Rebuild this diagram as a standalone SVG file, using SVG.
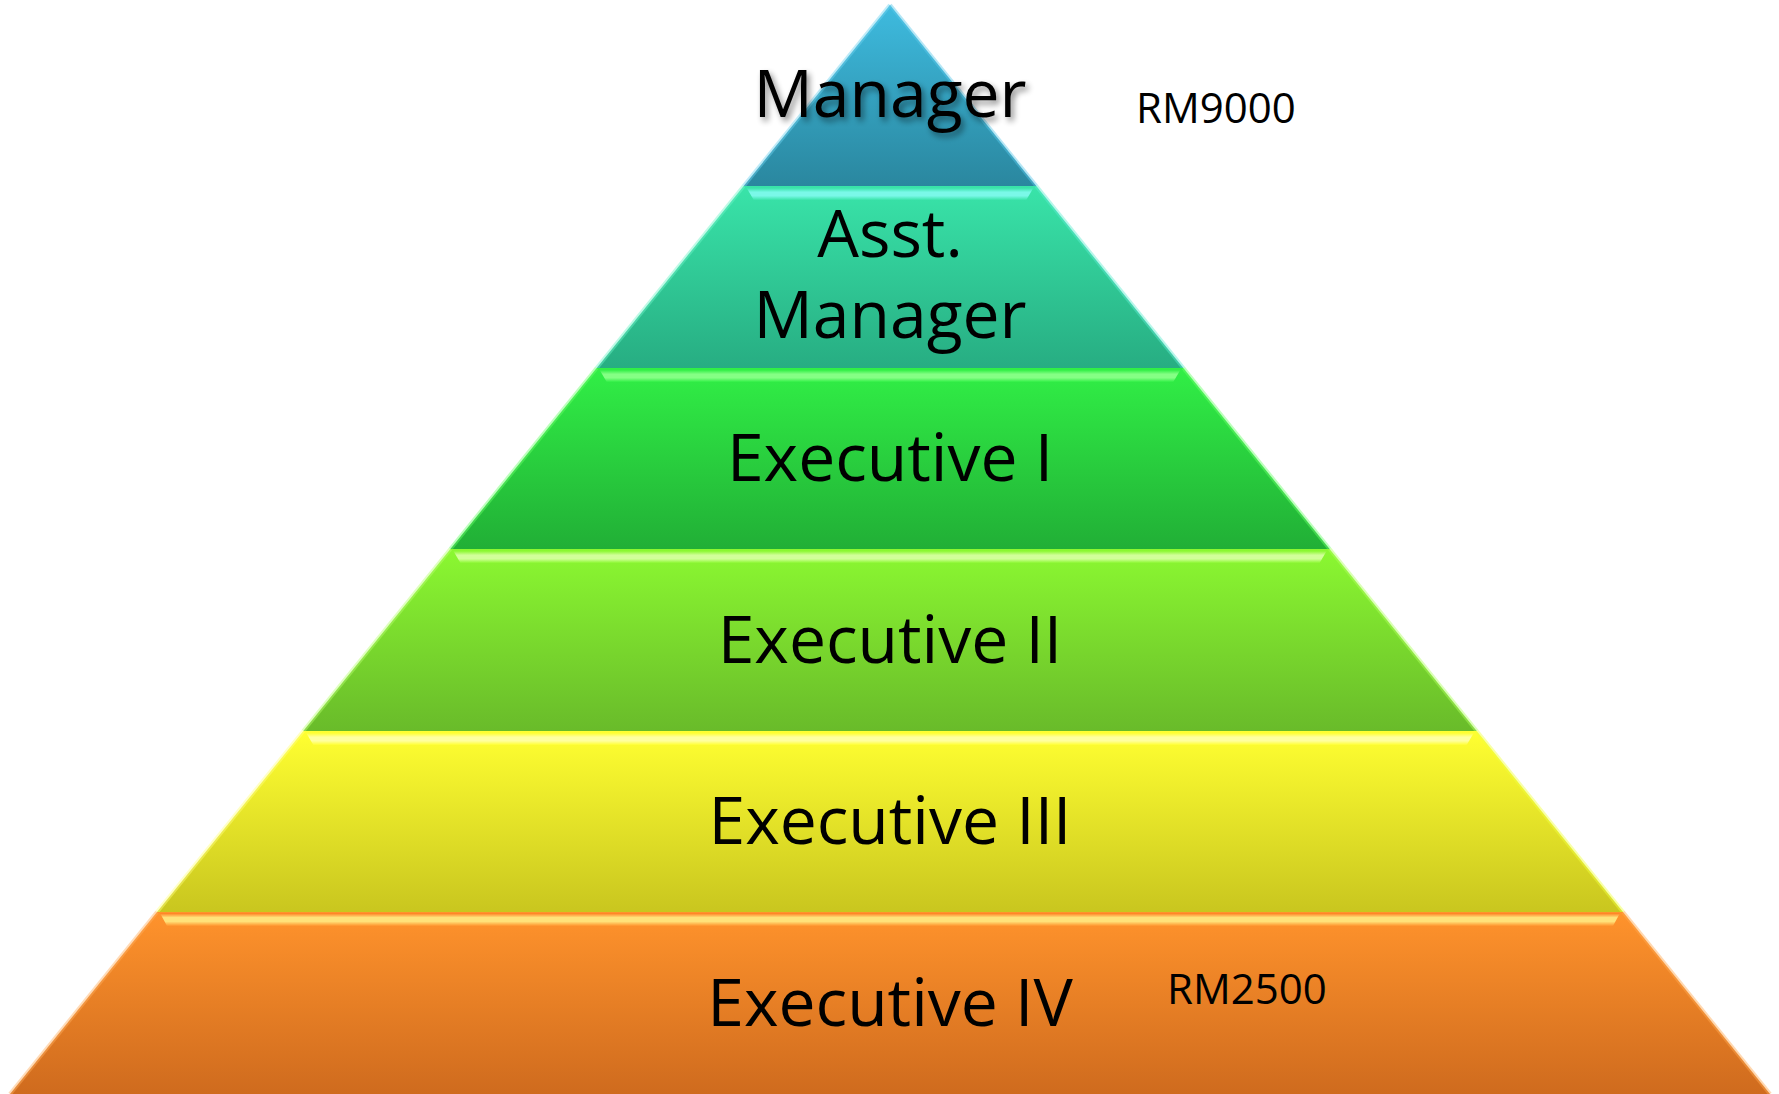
<svg xmlns="http://www.w3.org/2000/svg" width="1779" height="1094" viewBox="0 0 1779 1094">
<defs>
<linearGradient id="gMgr" x1="0" y1="0" x2="0" y2="1"><stop offset="0" stop-color="#3EBBDF"/><stop offset="1" stop-color="#2A879F"/></linearGradient>
<linearGradient id="gAsst" x1="0" y1="0" x2="0" y2="1"><stop offset="0" stop-color="#39E4A9"/><stop offset="1" stop-color="#27AD82"/></linearGradient>
<linearGradient id="gE1" x1="0" y1="0" x2="0" y2="1"><stop offset="0" stop-color="#31EF46"/><stop offset="1" stop-color="#21AF36"/></linearGradient>
<linearGradient id="gE2" x1="0" y1="0" x2="0" y2="1"><stop offset="0" stop-color="#8BF831"/><stop offset="1" stop-color="#69BB2A"/></linearGradient>
<linearGradient id="gE3" x1="0" y1="0" x2="0" y2="1"><stop offset="0" stop-color="#FFFF31"/><stop offset="1" stop-color="#C9C61F"/></linearGradient>
<linearGradient id="gE4" x1="0" y1="0" x2="0" y2="1"><stop offset="0" stop-color="#FF932C"/><stop offset="1" stop-color="#CF6B1E"/></linearGradient>
<linearGradient id="hAsst" x1="0" y1="0" x2="0" y2="1"><stop offset="0" stop-color="#39E4A9"/><stop offset="0.35" stop-color="#7AF8E8"/><stop offset="0.65" stop-color="#7AF8E8"/><stop offset="1" stop-color="#39E4A9"/></linearGradient>
<linearGradient id="hE1" x1="0" y1="0" x2="0" y2="1"><stop offset="0" stop-color="#31EF46"/><stop offset="0.35" stop-color="#85FF85"/><stop offset="0.65" stop-color="#85FF85"/><stop offset="1" stop-color="#31EF46"/></linearGradient>
<linearGradient id="hE2" x1="0" y1="0" x2="0" y2="1"><stop offset="0" stop-color="#8BF831"/><stop offset="0.35" stop-color="#D2FF9A"/><stop offset="0.65" stop-color="#D2FF9A"/><stop offset="1" stop-color="#8BF831"/></linearGradient>
<linearGradient id="hE3" x1="0" y1="0" x2="0" y2="1"><stop offset="0" stop-color="#FFFF31"/><stop offset="0.35" stop-color="#FFFFA0"/><stop offset="0.65" stop-color="#FFFFA0"/><stop offset="1" stop-color="#FFFF31"/></linearGradient>
<linearGradient id="hE4" x1="0" y1="0" x2="0" y2="1"><stop offset="0" stop-color="#FF7A1E"/><stop offset="0.35" stop-color="#FFE27A"/><stop offset="0.65" stop-color="#FFE27A"/><stop offset="1" stop-color="#FF932C"/></linearGradient>
<filter id="shadow" x="-10%" y="-20%" width="130%" height="150%">
<feGaussianBlur in="SourceAlpha" stdDeviation="3"/>
<feOffset dx="3" dy="4" result="b"/>
<feComponentTransfer><feFuncA type="linear" slope="0.45"/></feComponentTransfer>
<feMerge><feMergeNode/><feMergeNode in="SourceGraphic"/></feMerge>
</filter>
</defs>
<style>
.lbl{font-family:"Open Sans","Noto Sans","Liberation Sans",sans-serif;font-size:66px;fill:#000;text-anchor:middle}
.sal{font-family:"Open Sans","Noto Sans","Liberation Sans",sans-serif;font-size:42px;fill:#000}
.edgeL{fill:none;stroke-width:4;stroke-opacity:0.45}
</style>
<rect width="1779" height="1094" fill="#FFFFFF"/>
<g id="connectors"></g>

<g id="manager">
<polygon points="890,5 743.7,186 1036.3,186" fill="url(#gMgr)"/>
<line x1="890" y1="5" x2="743.7" y2="186" class="edgeL" stroke="#6FD3F0"/>
<line x1="890" y1="5" x2="1036.3" y2="186" class="edgeL" stroke="#5CC8E8"/>
<text class="lbl" x="890" y="117" filter="url(#shadow)">Manager</text>
</g>

<g id="asst-manager">
<polygon points="743.7,186 1036.3,186 1183.3,368 596.7,368" fill="url(#gAsst)"/>
<polygon points="746.7,188 1033.3,188 1026.3,200 753.7,200" fill="url(#hAsst)"/>
<line x1="743.7" y1="186" x2="596.7" y2="368" class="edgeL" stroke="#6FF5C8"/>
<line x1="1036.3" y1="186" x2="1183.3" y2="368" class="edgeL" stroke="#60EAD0"/>
<text class="lbl" x="890" y="257">Asst.</text>
<text class="lbl" x="890" y="338">Manager</text>
</g>

<g id="executive-1">
<polygon points="596.7,368 1183.3,368 1329.6,549 450.4,549" fill="url(#gE1)"/>
<polygon points="599.7,370 1180.3,370 1173.3,382 606.7,382" fill="url(#hE1)"/>
<line x1="596.7" y1="368" x2="450.4" y2="549" class="edgeL" stroke="#6BFF6B"/>
<line x1="1183.3" y1="368" x2="1329.6" y2="549" class="edgeL" stroke="#6BFF6B"/>
<text class="lbl" x="890" y="481">Executive I</text>
</g>

<g id="executive-2">
<polygon points="450.4,549 1329.6,549 1476.7,731 303.3,731" fill="url(#gE2)"/>
<polygon points="453.4,551 1326.6,551 1319.6,563 460.4,563" fill="url(#hE2)"/>
<line x1="450.4" y1="549" x2="303.3" y2="731" class="edgeL" stroke="#B8FF70"/>
<line x1="1329.6" y1="549" x2="1476.7" y2="731" class="edgeL" stroke="#B0FF60"/>
<text class="lbl" x="890" y="663">Executive II</text>
</g>

<g id="executive-3">
<polygon points="303.3,731 1476.7,731 1623,912 157,912" fill="url(#gE3)"/>
<polygon points="306.3,733 1473.7,733 1466.7,745 313.3,745" fill="url(#hE3)"/>
<line x1="303.3" y1="731" x2="157" y2="912" class="edgeL" stroke="#FFFF80"/>
<line x1="1476.7" y1="731" x2="1623" y2="912" class="edgeL" stroke="#F0FF40"/>
<text class="lbl" x="890" y="844">Executive III</text>
</g>

<g id="executive-4">
<polygon points="157,912 1623,912 1770,1094 10,1094" fill="url(#gE4)"/>
<polygon points="160,913 1620,913 1613,926 167,926" fill="url(#hE4)"/>
<line x1="157" y1="912" x2="10" y2="1094" class="edgeL" stroke="#FFB060"/>
<line x1="1623" y1="912" x2="1770" y2="1094" class="edgeL" stroke="#FFA850"/>
<text class="lbl" x="890" y="1026">Executive IV</text>
</g>

<g id="salary-labels">
<text class="sal" x="1136" y="123">RM9000</text>
<text class="sal" x="1167" y="1004">RM2500</text>
</g>
</svg>
